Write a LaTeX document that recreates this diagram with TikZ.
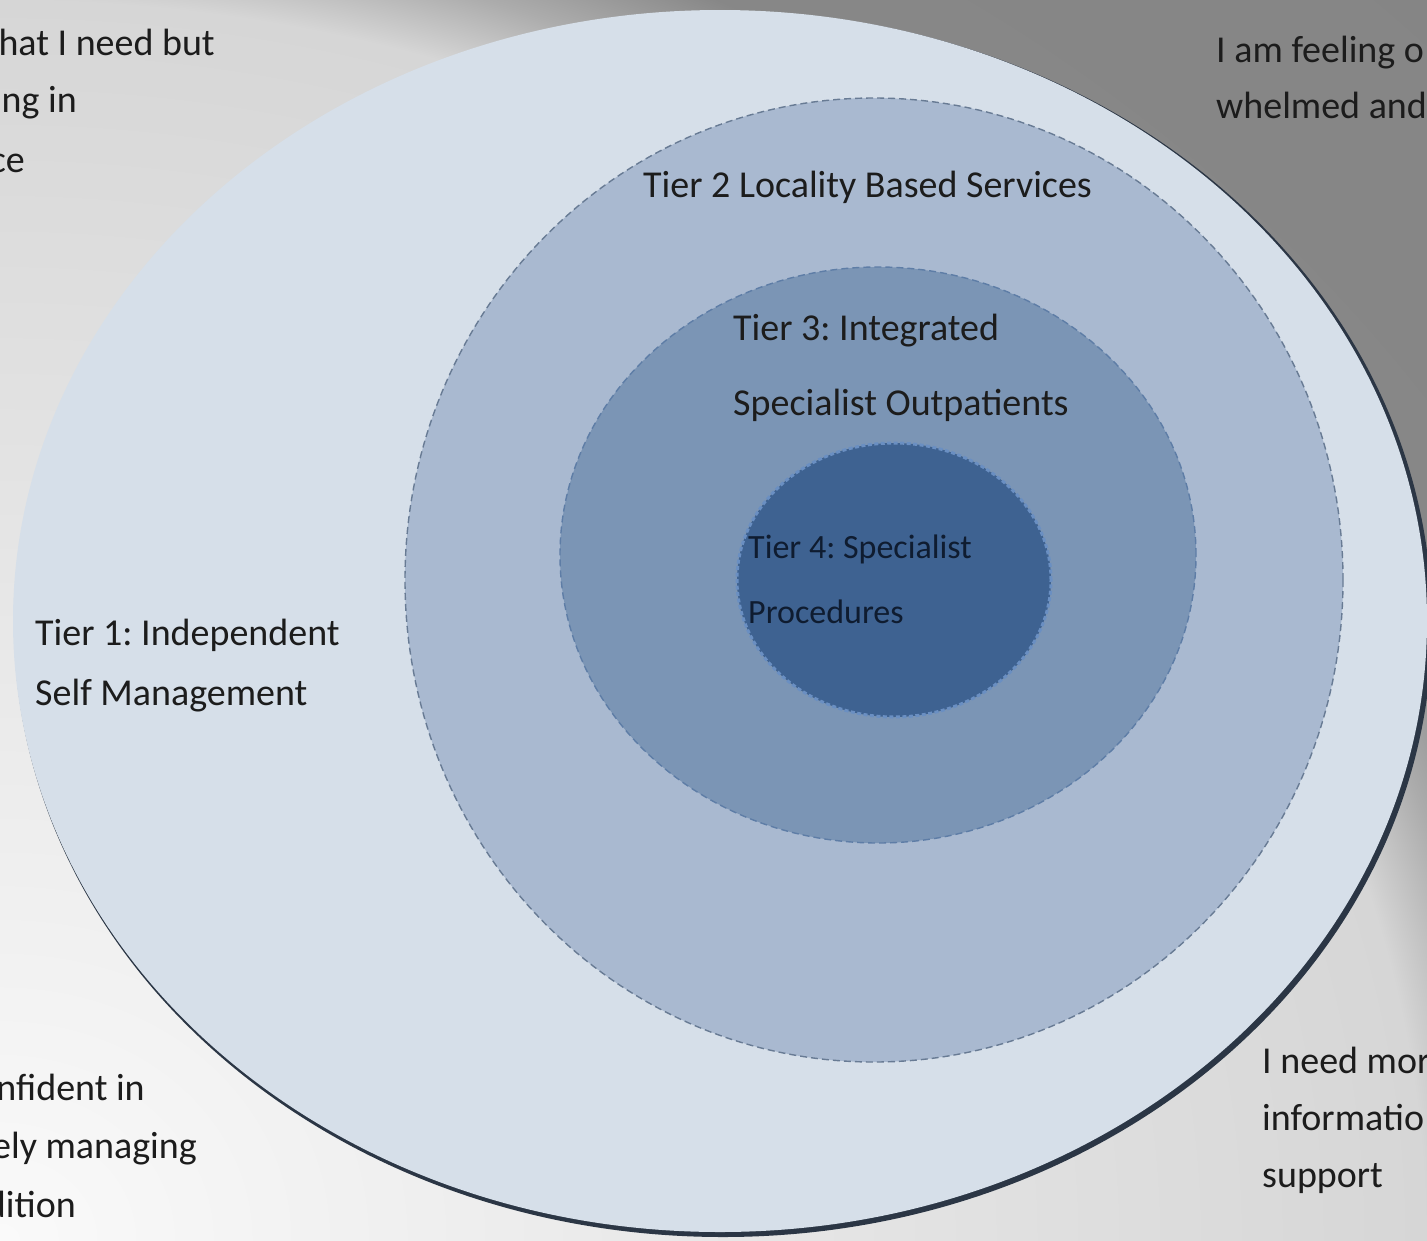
\documentclass[tikz,border=0pt]{standalone}
\usepackage{fontspec}
\setmainfont{Carlito}
\frenchspacing
\usetikzlibrary{shapes.geometric}
\definecolor{tonefill}{HTML}{D6DFE9}
\definecolor{ttwofill}{HTML}{A9B9D0}
\definecolor{tthreefill}{HTML}{7B95B5}
\definecolor{tfourfill}{HTML}{3E6291}
\definecolor{ttwoborder}{HTML}{687B94}
\definecolor{tthreeborder}{HTML}{5E7DA6}
\definecolor{tfourborder}{HTML}{6A8FC2}
\definecolor{shadowc}{HTML}{2B3645}
\definecolor{txt}{HTML}{1C1C1C}
\definecolor{txtfour}{HTML}{0F1C30}
\definecolor{bgA}{HTML}{FAFAFA}
\definecolor{bgB}{HTML}{E4E4E4}
\definecolor{bgC}{HTML}{D6D6D6}
\definecolor{bgD}{HTML}{ACACAC}
\definecolor{bgE}{HTML}{878787}
\definecolor{bgF}{HTML}{858585}
\pgfdeclareradialshading{bgrad}{\pgfpoint{0bp}{0bp}}{%
  color(0bp)=(bgA); color(850bp)=(bgB); color(1420bp)=(bgC);
  color(1500bp)=(bgD); color(1590bp)=(bgE); color(2100bp)=(bgF)}
\tikzset{
  ring/.style={ellipse, inner sep=0pt, outer sep=0pt},
  lbl/.style={font=\fontsize{38}{46}\selectfont, text=txt, inner sep=0pt},
  lblfour/.style={font=\fontsize{34}{40}\selectfont, text=txtfour, inner sep=0pt, anchor=base west},
}
\begin{document}
\begin{tikzpicture}[x=1pt,y=-1pt]
\useasboundingbox (0,0) rectangle (1427,1240);
\begin{scope}
\clip (0,0) rectangle (1427,1240);
% background glow from the lower left corner
\fill[bgF] (0,0) rectangle (1427,1240);
\node[inner sep=0pt, outer sep=0pt, yscale=0.87, transform shape] (bg) at (0,1240) {\pgfuseshading{bgrad}};
% tier 1 with shadow
\node[ring, fill=shadowc, minimum width=1418pt, minimum height=1226pt] (sh) at (723,624) {};
\node[ring, fill=tonefill, minimum width=1414pt, minimum height=1222pt] (t1) at (720,621) {};
% tier 2
\node[ring, fill=ttwofill, draw=ttwoborder, line width=1.4pt, dash pattern=on 7pt off 4pt, minimum width=938pt, minimum height=964pt] (t2) at (874,580) {};
% tier 3
\node[ring, fill=tthreefill, draw=tthreeborder, line width=1.4pt, dash pattern=on 7pt off 4pt, minimum width=636pt, minimum height=576pt] (t3) at (878,555) {};
% tier 4
\node[ring, fill=tfourfill, draw=tfourborder, line width=3pt, dash pattern=on 4pt off 2.5pt, minimum width=314pt, minimum height=274pt] (t4) at (894,580) {};

% labels
\node[lbl, anchor=base west] (l1a) at (35,645) {Tier 1: Independent};
\node[lbl, anchor=base west] (l1b) at (35,705) {Self Management};
\node[lbl, anchor=base west] (l2) at (643,197) {Tier 2 Locality Based Services};
\node[lbl, anchor=base west] (l3a) at (733,340) {Tier 3: Integrated};
\node[lbl, anchor=base west] (l3b) at (733,415) {Specialist Outpatients};
\node[lblfour] (l4a) at (748,558) {Tier 4: Specialist};
\node[lblfour] (l4b) at (748,623) {Procedures};

% corner texts
\node[lbl, anchor=base east] (tla) at (215,55) {hat I need but};
\node[lbl, anchor=base east] (tlb) at (77,112) {ng in};
\node[lbl, anchor=base east] (tlc) at (25,172) {ce};
\node[lbl, anchor=base west] (tra) at (1216,62) {I am feeling o};
\node[lbl, anchor=base west] (trb) at (1216,118) {whelmed and};
\node[lbl, anchor=base east] (bla) at (145,1100) {nfident in};
\node[lbl, anchor=base east] (blb) at (197,1158) {ely managing};
\node[lbl, anchor=base east] (blc) at (76,1217) {dition};
\node[lbl, anchor=base west] (bra) at (1262,1073) {I need mor};
\node[lbl, anchor=base west] (brb) at (1262,1130) {informatio};
\node[lbl, anchor=base west] (brc) at (1262,1187) {support};
\end{scope}
\end{tikzpicture}
\end{document}
